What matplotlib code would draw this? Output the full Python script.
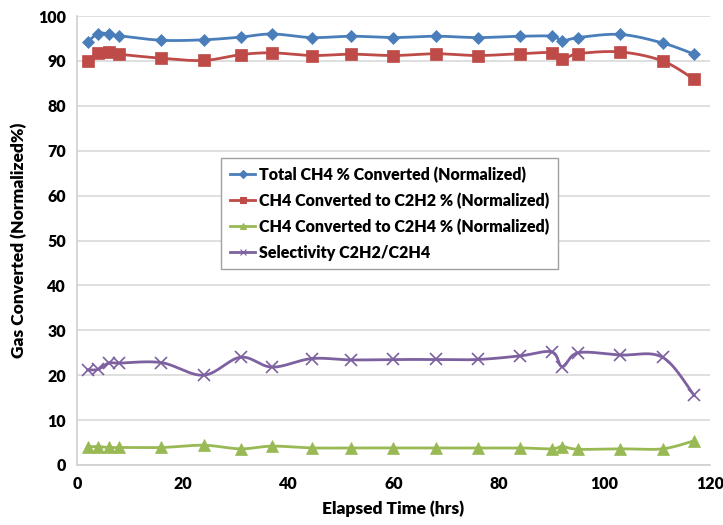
import numpy as np
import matplotlib
matplotlib.use("Agg")
import matplotlib.pyplot as plt
from matplotlib.lines import Line2D

plt.rcParams['font.family'] = ['Lato', 'DejaVu Sans']

hours = [2, 4, 6, 8, 16, 24, 31, 37, 44.5, 52, 60, 68, 76, 84, 90, 92, 95, 103, 111, 117]
total_ch4 = [94.2, 96.1, 96.0, 95.6, 94.6, 94.7, 95.3, 96.0, 95.2, 95.5, 95.2, 95.5, 95.2,
             95.5, 95.5, 94.5, 95.2, 95.9, 94.0, 91.5]
ch4_c2h2 = [90.0, 91.8, 92.0, 91.5, 90.6, 90.1, 91.4, 91.8, 91.2, 91.5, 91.2, 91.6, 91.2,
            91.6, 91.8, 90.4, 91.6, 92.0, 90.0, 85.9]
ch4_c2h4 = [4.1, 4.1, 3.9, 3.9, 3.9, 4.4, 3.6, 4.2, 3.8, 3.8, 3.8, 3.8, 3.8,
            3.8, 3.6, 4.1, 3.5, 3.6, 3.6, 5.4]
selectivity = [21.2, 21.3, 22.7, 22.7, 22.8, 20.0, 24.0, 21.8, 23.7, 23.4, 23.5, 23.5, 23.5,
               24.3, 25.2, 21.9, 25.0, 24.5, 24.0, 15.5]

labels = ["Total CH4 % Converted (Normalized)",
          "CH4 Converted to C2H2 % (Normalized)",
          "CH4 Converted to C2H4 % (Normalized)",
          "Selectivity C2H2/C2H4"]
colors = ["#4A7EBB", "#BE4B48", "#98B954", "#7D60A0"]
markers = ["D", "s", "^", "x"]
msizes = [6, 8, 8, 8]

x_ticks = [0, 20, 40, 60, 80, 100, 120]
y_ticks = list(range(0, 101, 10))


def smooth(x, y, n=30):
    """Excel-style smoothed line (cubic Bezier, Catmull-Rom control points)."""
    x = np.asarray(x, float)
    y = np.asarray(y, float)
    px = np.concatenate([[x[0]], x, [x[-1]]])
    py = np.concatenate([[y[0]], y, [y[-1]]])
    xs, ys = [], []
    t = np.linspace(0, 1, n)
    for i in range(1, len(px) - 2):
        p0 = np.array([px[i], py[i]])
        p3 = np.array([px[i + 1], py[i + 1]])
        p1 = p0 + (np.array([px[i + 1], py[i + 1]]) - np.array([px[i - 1], py[i - 1]])) / 6
        p2 = p3 - (np.array([px[i + 2], py[i + 2]]) - np.array([px[i], py[i]])) / 6
        b = ((1 - t) ** 3)[:, None] * p0 + (3 * (1 - t) ** 2 * t)[:, None] * p1 + \
            (3 * (1 - t) * t ** 2)[:, None] * p2 + (t ** 3)[:, None] * p3
        xs.append(b[:, 0])
        ys.append(b[:, 1])
    return np.concatenate(xs), np.concatenate(ys)


fig = plt.figure(figsize=(7.23, 5.25), dpi=100)
ax = fig.add_axes([0.1065, 0.1143, 0.8755, 0.8552])

series = [total_ch4, ch4_c2h2, ch4_c2h4, selectivity]
handles = []
for vals, lab, c, m, ms in zip(series, labels, colors, markers, msizes):
    sx, sy = smooth(hours, vals)
    ax.plot(sx, sy, color=c, lw=2.0, zorder=3)
    ax.plot(hours, vals, linestyle='none', marker=m, color=c, markersize=ms,
            markeredgewidth=1.2 if m == 'x' else 0.5, zorder=4)
    handles.append(Line2D([0], [0], color=c, lw=2, marker=m,
                          markersize=4, markeredgewidth=0.8))

ax.set_xlim(0, 120)
ax.set_ylim(0, 100)
ax.set_xticks(x_ticks)
ax.set_yticks(y_ticks)
ax.grid(axis='y', color='#D9D9D9', lw=1.2)
ax.set_axisbelow(True)
for s in ['top', 'right']:
    ax.spines[s].set_visible(False)
for s in ['left', 'bottom']:
    ax.spines[s].set_color('#D0D0D0')
    ax.spines[s].set_linewidth(1.2)
ax.tick_params(length=0, labelsize=11.5, pad=8)
for lbl in ax.get_xticklabels() + ax.get_yticklabels():
    lbl.set_fontweight('heavy')

ax.set_xlabel("Elapsed Time (hrs)", fontsize=12.5, fontweight='heavy', labelpad=6)
ax.set_ylabel("Gas Converted (Normalized%)", fontsize=12.5, fontweight='heavy', labelpad=8)

leg = ax.legend(handles, labels, loc='upper left', bbox_to_anchor=(0.2275, 0.684),
                borderaxespad=0,
                fancybox=False, edgecolor='#A0A0A0', framealpha=1,
                prop={'weight': 'heavy', 'size': 11.5}, handlelength=1.6,
                handletextpad=0.2, labelspacing=0.6, borderpad=0.55)
leg.get_frame().set_linewidth(1.0)

fig.savefig("out.png", dpi=100)
